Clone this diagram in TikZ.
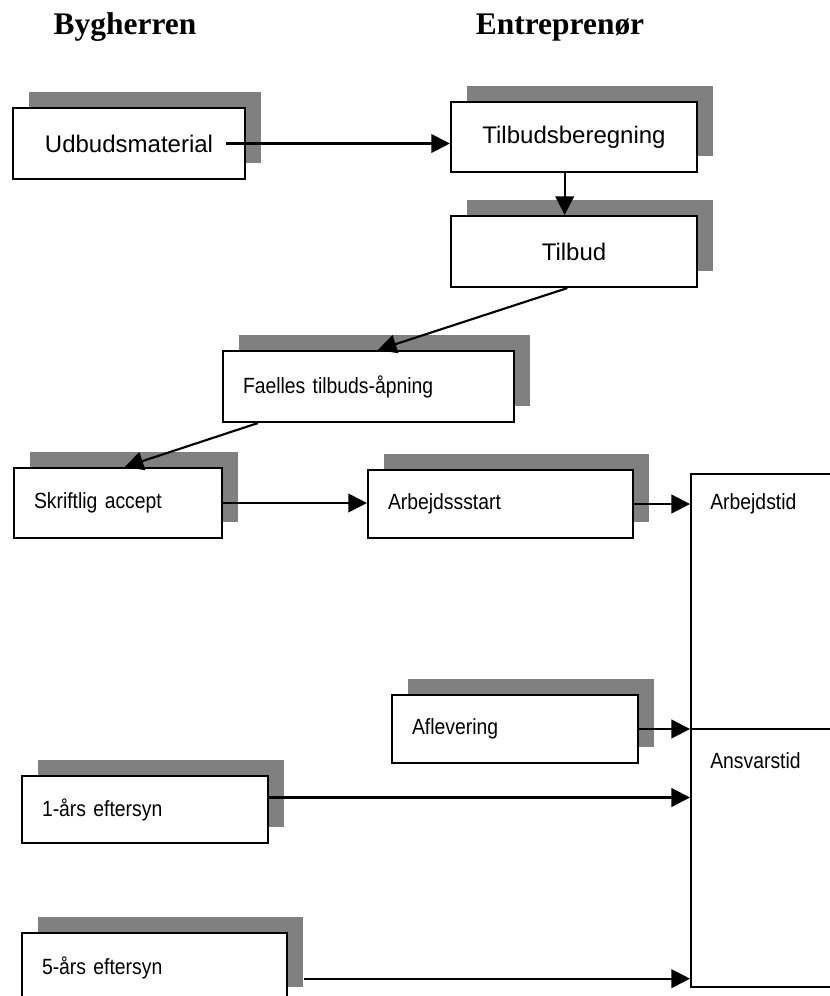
\documentclass[tikz,border=0pt]{standalone}
\usepackage{fontspec}
\setmainfont{Liberation Sans}
\newfontfamily\headfont{Liberation Serif}
\newfontfamily\smallfont[FakeStretch=0.88, WordSpace=0.75]{Liberation Sans}
\usetikzlibrary{positioning,arrows.meta,shadows,calc}

\begin{document}
\begin{tikzpicture}[x=0.75pt, y=-0.75pt, >={Triangle[length=14pt, width=14pt]},
    head/.style={font=\headfont\bfseries\fontsize{23.6}{28}\selectfont, anchor=base, inner sep=0pt},
    box/.style={draw, line width=1.6pt, fill=white, inner sep=0pt,
        drop shadow={shadow xshift=12pt, shadow yshift=12pt, fill=gray, opacity=1}},
    boxc/.style={box, align=center, font=\fontsize{18}{21}\selectfont},
    boxl/.style={box, align=left, inner xsep=15pt, font=\smallfont\fontsize{16.5}{19}\selectfont},
    tidbox/.style={draw, line width=1.2pt, minimum width=157pt, inner sep=0pt},
    tidtxt/.style={anchor=west, inner sep=0pt, font=\smallfont\fontsize{16.5}{19}\selectfont},
    arr/.style={->, line width=1.6pt}]
    \useasboundingbox (0,0) rectangle (830,996);

    % Overskrifter
    \node[head] (bygherren) at (125,34) {Bygherren};
    \node[head] (entreprenor) at (560,34) {Entreprenør};

    % Tilbud
    \node[boxc, minimum width=174pt, minimum height=53.25pt] (udbud) at (129,143.5) {Udbudsmaterial};
    \node[boxc, minimum width=184.5pt, minimum height=52.5pt] (beregning) at (574,137) {Tilbudsberegning};
    \node[boxc, minimum width=184.5pt, minimum height=53.25pt] (tilbud) at (574,251.5) {Tilbud};
    \node[boxl, text width=188.25pt, minimum height=53.25pt] (aabning) at (368.5,386.5) {Faelles tilbuds-åpning};

    % Aftale og udfoerelse
    \node[boxl, text width=126pt, minimum height=52.5pt] (accept) at (118,503) {Skriftlig accept};
    \node[boxl, text width=168.75pt, minimum height=51pt] (start) at (500.5,504) {Arbejdssstart};
    \node[boxl, text width=154.5pt, minimum height=51pt] (aflevering) at (515,729) {Aflevering};

    % Eftersyn
    \node[boxl, text width=154.5pt, minimum height=50.25pt] (aar1) at (145,809.5) {1-års eftersyn};
    \node[boxl, text width=168.75pt, minimum height=52.5pt] (aar5) at (154.5,968) {5-års eftersyn};

    % Tidsrum
    \node[tidbox, minimum height=191.25pt] (arbtid) at (795.5,601.5) {};
    \node[tidbox, minimum height=193.5pt] (ansvar) at (795.5,858) {};
    \node[tidtxt] (arbtidtxt) at ([xshift=15pt, yshift=-23pt]arbtid.north west) {Arbejdstid};
    \node[tidtxt] (ansvartxt) at ([xshift=15pt, yshift=-24pt]ansvar.north west) {Ansvarstid};

    % Pile
    \draw[arr] ([xshift=-15pt]udbud.east) -- (udbud.east -| beregning.west);
    \draw[arr] ([xshift=-7pt]beregning.south) -- ([xshift=-7pt]tilbud.north);
    \draw[arr] ([xshift=-5pt]tilbud.south) -- ([xshift=7pt]aabning.north);
    \draw[arr] ([xshift=27pt]aabning.south west) -- ([xshift=5pt]accept.north);
    \draw[arr] (accept.east) -- (accept.east -| start.west);
    \draw[arr] (start.east) -- (start.east -| arbtid.west);
    \draw[arr] (aflevering.east) -- (aflevering.east -| arbtid.west);
    \draw[arr] ([yshift=9pt]aar1.east) -- ([yshift=9pt]aar1.east -| ansvar.west);
    \draw[arr] ([xshift=12pt, yshift=-8pt]aar5.east) -- ([yshift=-8pt]aar5.east -| ansvar.west);

\end{tikzpicture}
\end{document}
